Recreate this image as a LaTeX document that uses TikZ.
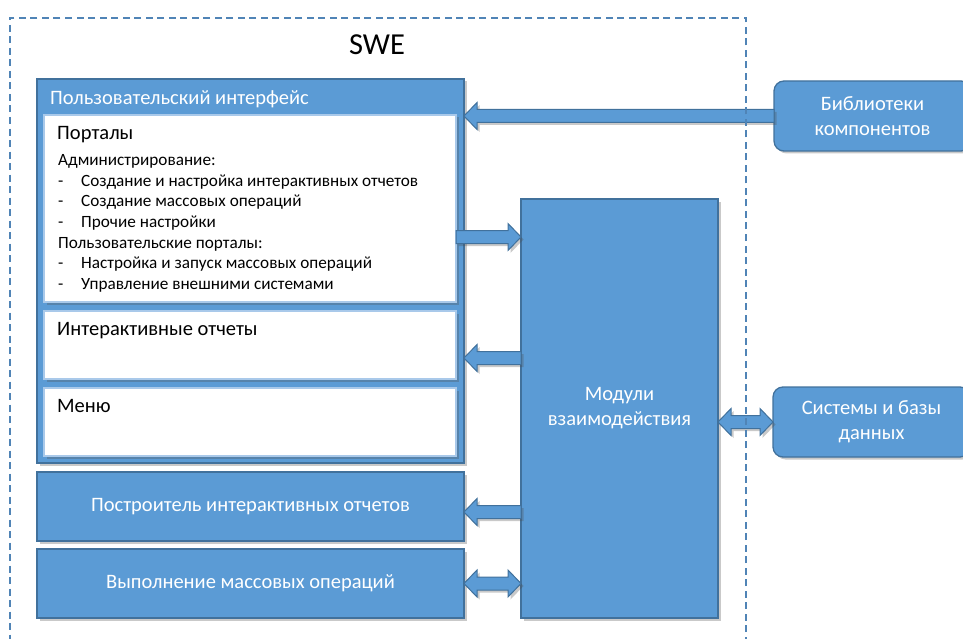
\documentclass[tikz,border=0pt]{standalone}
\usepackage{fontspec}
\setmainfont{Carlito}
\usetikzlibrary{calc,shadows}
\definecolor{bfill}{HTML}{5B9BD5}
\definecolor{bline}{HTML}{41719C}
\definecolor{dline}{HTML}{5084B6}
\definecolor{wline}{HTML}{A9C9EA}
\tikzset{
 shad/.style={drop shadow={shadow xshift=2.5pt,shadow yshift=-2.5pt,opacity=0.3,fill=black!70}},
 bluebox/.style={draw=bline,fill=bfill,line width=1.3pt,outer sep=0pt,inner sep=0pt,anchor=north west,shad},
 whitebox/.style={draw=wline,fill=white,line width=1.3pt,outer sep=0pt,inner sep=0pt,anchor=north west,shad},
 roundbox/.style={bluebox,rounded corners=10pt},
 wtext/.style={text=white,font=\fontsize{20.5}{25}\selectfont,align=center},
 wtitle/.style={text=white,font=\fontsize{20.5}{24}\selectfont,anchor=base west,inner sep=0pt},
 btext/.style={text=black,font=\fontsize{20.5}{24}\selectfont,anchor=base west,inner sep=0pt},
 ltext/.style={text=black,font=\fontsize{17.2}{20.7}\selectfont,anchor=base west,inner sep=0pt},
 barrow/.style={draw=bline,fill=bfill,line width=1pt,shad},
 swebox/.style={draw=dline,dash pattern=on 7pt off 4.5pt,line width=1.3pt,anchor=north west,inner sep=0pt,outer sep=0pt},
}
\newcommand{\blockarrowone}[2]{%
 \coordinate (hb) at ($(#2)!13pt!(#1)$);
 \draw[barrow] ($(#1)!6.5pt!90:(#2)$) -- ($(hb)!6.5pt!-90:(#1)$) -- ($(hb)!13.5pt!-90:(#1)$) -- (#2) -- ($(hb)!13.5pt!90:(#1)$) -- ($(hb)!6.5pt!90:(#1)$) -- ($(#1)!6.5pt!-90:(#2)$) -- cycle;}
\newcommand{\blockarrowtwo}[2]{%
 \coordinate (ha) at ($(#1)!13pt!(#2)$);
 \coordinate (hb) at ($(#2)!13pt!(#1)$);
 \draw[barrow] (#1) -- ($(ha)!13.5pt!90:(#2)$) -- ($(ha)!6.5pt!90:(#2)$) -- ($(hb)!6.5pt!-90:(#1)$) -- ($(hb)!13.5pt!-90:(#1)$) -- (#2) -- ($(hb)!13.5pt!90:(#1)$) -- ($(hb)!6.5pt!90:(#1)$) -- ($(ha)!6.5pt!-90:(#2)$) -- ($(ha)!13.5pt!-90:(#2)$) -- cycle;}
\begin{document}
\begin{tikzpicture}[x=1pt,y=-1pt]
\useasboundingbox (0,0) rectangle (963,639);
\clip (0,0) rectangle (963,639);
\node[font=\fontsize{30.5}{36}\selectfont,inner sep=0pt] (swetitle) at (377,45) {SWE};
% boxes
\node[bluebox,minimum width=427pt,minimum height=384pt] (ui) at (37,79) {};
\node[whitebox,minimum width=412pt,minimum height=187pt] (portals) at (44,115) {};
\node[whitebox,minimum width=412pt,minimum height=68pt] (reports) at (44,311) {};
\node[whitebox,minimum width=412pt,minimum height=68pt] (menu) at (44,388) {};
\node[bluebox,wtext,minimum width=427pt,minimum height=69pt] (builder) at (37,472) {Построитель интерактивных отчетов};
\node[bluebox,wtext,minimum width=427pt,minimum height=69pt] (mass) at (37,549) {Выполнение массовых операций};
\node[bluebox,wtext,minimum width=197pt,minimum height=419pt] (modules) at (521,199) {Модули\\взаимодействия};
\node[roundbox,wtext,minimum width=197pt,minimum height=70pt] (libs) at (774,81) {Библиотеки\\компонентов};
\node[roundbox,wtext,minimum width=197pt,minimum height=70pt] (sys) at (773,387) {Системы и базы\\данных};
% texts
\node[wtitle] (uititle) at (50,104.5) {Пользовательский интерфейс};
\node[btext] (portalstitle) at (57,139.5) {Порталы};
\node[ltext] (plist) at (58,165.5) {\begin{tabular}[t]{@{}p{23pt}@{}l@{}}
\multicolumn{2}{@{}l@{}}{Администрирование:}\\
-&Создание и настройка интерактивных отчетов\\
-&Создание массовых операций\\
-&Прочие настройки\\
\multicolumn{2}{@{}l@{}}{Пользовательские порталы:}\\
-&Настройка и запуск массовых операций\\
-&Управление внешними системами
\end{tabular}};
\node[btext] (reportstitle) at (57,335.5) {Интерактивные отчеты};
\node[btext] (menutitle) at (57,412.5) {Меню};
% connector points
\coordinate (a1e) at (ui.east |- libs.west);
\coordinate (a2s) at (portals.east |- 0,237);
\coordinate (a2e) at (modules.west |- 0,237);
\coordinate (a3s) at (modules.west |- 0,358);
\coordinate (a3e) at (ui.east |- 0,358);
\coordinate (a4s) at (modules.west |- 0,512);
\coordinate (a4e) at (builder.east |- 0,512);
\coordinate (a5e) at (modules.west |- mass.east);
\coordinate (a6s) at (modules.east |- sys.west);
% arrows
\blockarrowone{libs.west}{a1e}
\blockarrowone{a2s}{a2e}
\blockarrowone{a3s}{a3e}
\blockarrowone{a4s}{a4e}
\blockarrowtwo{mass.east}{a5e}
\blockarrowtwo{a6s}{sys.west}
% dashed SWE frame
\node[swebox,minimum width=736pt,minimum height=660pt] (swe) at (10,18) {};
\end{tikzpicture}
\end{document}
